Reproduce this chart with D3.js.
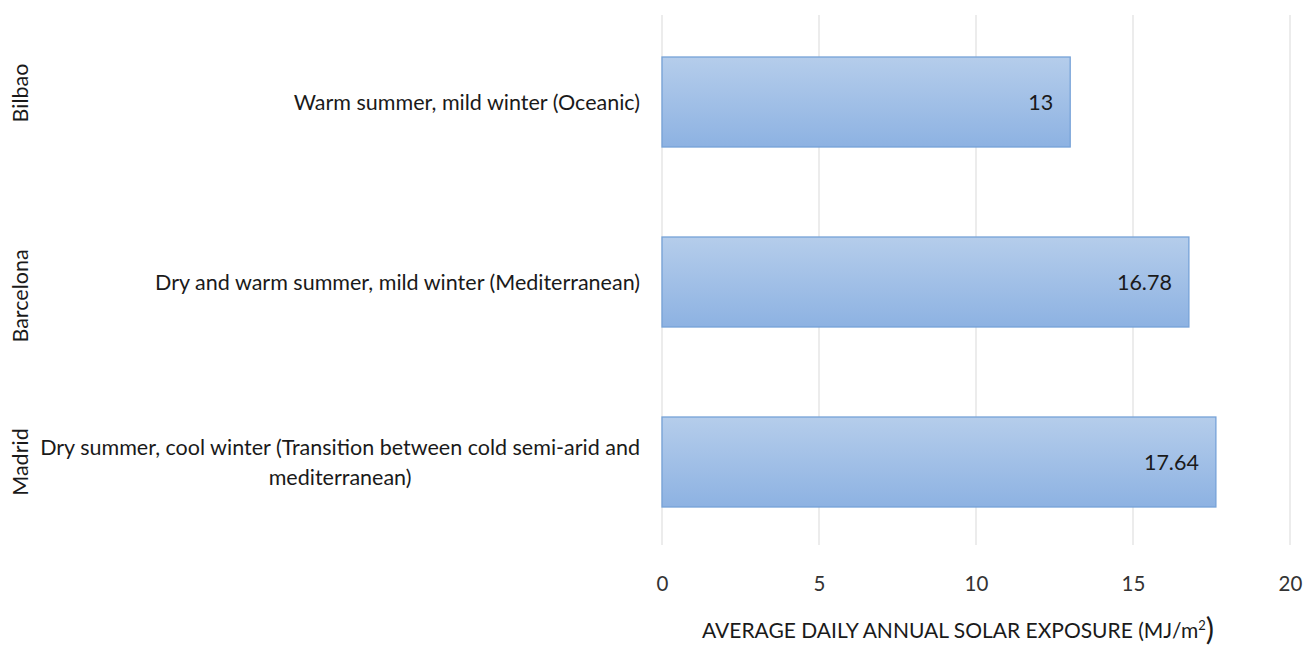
<!DOCTYPE html>
<html>
<head>
<meta charset="utf-8">
<script src="https://cdn.jsdelivr.net/npm/d3@7"></script>
<style>
  body { margin: 0; background: #fff; }
  svg { display: block; font-family: Lato, "Open Sans", sans-serif; }
</style>
</head>
<body>
<div id="chart"></div>
<script>
var width = 1315;
var height = 646;

// data
var cities = ["Bilbao", "Barcelona", "Madrid"];
var climates = [
	["Warm summer, mild winter (Oceanic)"],
	["Dry and warm summer, mild winter (Mediterranean)"],
	["Dry summer, cool winter (Transition between cold semi-arid and", "mediterranean)"]
];
var exposure = [13, 16.78, 17.64];
var xTicks = [0, 5, 10, 15, 20];

var plotLeft = 662, plotRight = 1290, plotTop = 12, plotBottom = 552;

var svg = d3.select("#chart")
	.append("svg")
	.attr("width", width)
	.attr("height", height);

var defs = svg.append("defs");
var grad = defs.append("linearGradient")
	.attr("id", "barGrad")
	.attr("x1", 0).attr("y1", 0).attr("x2", 0).attr("y2", 1);
grad.append("stop").attr("offset", "0%").attr("stop-color", "#b5cdeb");
grad.append("stop").attr("offset", "100%").attr("stop-color", "#8db2e2");

var xScale = d3.scaleLinear()
	.domain([0, 20])
	.range([plotLeft, plotRight]);

var yScale = d3.scaleBand()
	.domain(cities)
	.range([plotTop, plotBottom])
	.paddingInner(0.5)
	.paddingOuter(0.25);

// gridlines
svg.append("g")
	.selectAll("line")
	.data(xTicks)
	.enter()
	.append("line")
	.attr("x1", function(d) { return xScale(d); })
	.attr("x2", function(d) { return xScale(d); })
	.attr("y1", 15)
	.attr("y2", 545)
	.attr("stroke", "#d9d9d9")
	.attr("stroke-width", 1);

// tick labels
var xAxis = d3.axisBottom(xScale)
	.tickValues(xTicks)
	.tickSize(0)
	.tickPadding(0);

var xAxisHandle = svg.append("g")
	.attr("transform", "translate(0,576)")
	.call(xAxis);
xAxisHandle.select(".domain").remove();
xAxisHandle.selectAll("text")
	.attr("font-family", "Lato, 'Open Sans', sans-serif")
	.attr("font-size", 20.5)
	.attr("fill", "#333")
	.attr("dy", "0.71em");

// bars
svg.append("g")
	.selectAll("rect")
	.data(exposure)
	.enter()
	.append("rect")
	.attr("x", xScale(0))
	.attr("y", function(d, i) { return yScale(cities[i]); })
	.attr("width", function(d) { return xScale(d) - xScale(0); })
	.attr("height", yScale.bandwidth())
	.attr("fill", "url(#barGrad)")
	.attr("stroke", "#76a2d8")
	.attr("stroke-width", 1.3);

// value labels
svg.append("g")
	.selectAll("text")
	.data(exposure)
	.enter()
	.append("text")
	.attr("x", function(d) { return xScale(d) - 17; })
	.attr("y", function(d, i) { return yScale(cities[i]) + yScale.bandwidth() / 2; })
	.attr("dy", "0.35em")
	.attr("text-anchor", "end")
	.attr("font-size", 21.5)
	.attr("fill", "#1a1a1a")
	.text(function(d) { return d; });

// climate labels (right aligned block, lines centred)
var lineH = 30;
climates.forEach(function(lines, i) {
	var cy = yScale(cities[i]) + yScale.bandwidth() / 2;
	var g = svg.append("g");
	var t = g.selectAll("text")
		.data(lines)
		.enter()
		.append("text")
		.attr("font-size", 21.5)
		.attr("fill", "#1a1a1a")
		.attr("text-anchor", "middle")
		.attr("y", function(d, j) { return cy + (j - (lines.length - 1) / 2) * lineH; })
		.attr("dy", "0.35em")
		.text(function(d) { return d; });
	var maxW = 0;
	t.each(function() { maxW = Math.max(maxW, this.getComputedTextLength()); });
	t.attr("x", 640 - maxW / 2);
});

// outer city labels
var cityOffset = [-9, 14, 0];
svg.append("g")
	.selectAll("text")
	.data(cities)
	.enter()
	.append("text")
	.attr("transform", function(d, i) {
		return "translate(20," + (yScale(d) + yScale.bandwidth() / 2 + cityOffset[i]) + ") rotate(-90)";
	})
	.attr("text-anchor", "middle")
	.attr("dy", "0.35em")
	.attr("font-size", 21.5)
	.attr("fill", "#1a1a1a")
	.text(function(d) { return d; });

// axis title
var title = svg.append("text")
	.attr("x", 958)
	.attr("y", 638)
	.attr("text-anchor", "middle")
	.attr("font-size", 21)
	.attr("fill", "#1a1a1a");
title.append("tspan").text("AVERAGE DAILY ANNUAL SOLAR EXPOSURE (MJ/m");
title.append("tspan").attr("font-size", 13).attr("dy", -8).text("2");
title.append("tspan").attr("font-size", 31).attr("dy", 10).text(")");
</script>
</body>
</html>
